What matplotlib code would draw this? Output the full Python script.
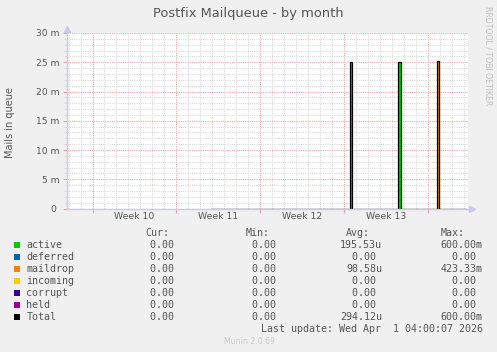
import matplotlib
matplotlib.use("Agg")
import matplotlib.pyplot as plt
import numpy as np
from matplotlib.patches import Rectangle
from matplotlib.transforms import blended_transform_factory

# ---------------- data ----------------
# time in days since Monday of Week 10 (2026-03-02 00:00)
time_days = [9.92, 21.50, 21.67, 25.53, 25.70, 28.78, 28.95, 31.17]
active   = [0.0, 25.1, 0.0, 25.0, 0.0, 0.0, 0.0, 0.0]   # milli
deferred = [0.0, 0.0, 0.0, 0.0, 0.0, 0.0, 0.0, 0.0]
maildrop = [0.0, 0.0, 0.0, 0.0, 0.0, 25.2, 0.0, 0.0]
incoming = [0.0, 0.0, 0.0, 0.0, 0.0, 0.0, 0.0, 0.0]
corrupt  = [0.0, 0.0, 0.0, 0.0, 0.0, 0.0, 0.0, 0.0]
held     = [0.0, 0.0, 0.0, 0.0, 0.0, 0.0, 0.0, 0.0]

series_names = ["active", "deferred", "maildrop", "incoming", "corrupt", "held"]
series_colors = ["#00CC00", "#0066B3", "#FF8000", "#FFCC00", "#330099", "#990099"]
total_color = "#000000"

week_starts = [0, 7, 14, 21, 28]
week_labels = ["Week 10", "Week 11", "Week 12", "Week 13"]
xlim = (-2.17, 31.33)
ymax = 30
y_ticks = [0, 5, 10, 15, 20, 25, 30]

legend_cur = ["0.00 ", "0.00 ", "0.00 ", "0.00 ", "0.00 ", "0.00 ", "0.00 "]
legend_min = ["0.00 ", "0.00 ", "0.00 ", "0.00 ", "0.00 ", "0.00 ", "0.00 "]
legend_avg = ["195.53u", "0.00 ", "98.58u", "0.00 ", "0.00 ", "0.00 ", "294.12u"]
legend_max = ["600.00m", "0.00 ", "423.33m", "0.00 ", "0.00 ", "0.00 ", "600.00m"]
last_update = "Last update: Wed Apr  1 04:00:07 2026"

# ---------------- figure ----------------
W, H = 497, 352
fig = plt.figure(figsize=(W / 100, H / 100), dpi=100, facecolor="#F0F0F0")

def fx(x):
    return x / W

def fy(y):
    return 1 - y / H

ax_l, ax_r, ax_t, ax_b = 66.5, 468, 33, 208.5
ax = fig.add_axes([fx(ax_l), fy(ax_b), fx(ax_r - ax_l), (ax_b - ax_t) / H])
ax.set_facecolor("white")
ax.set_xlim(*xlim)
ax.set_ylim(0, ymax)

# grid
ax.set_xticks(week_starts)
ax.set_xticks(np.arange(-2, 32, 1), minor=True)
ax.set_yticks(y_ticks)
ax.set_yticks(np.arange(0, ymax + 1, 1), minor=True)
ax.grid(which="minor", color="#DCDCDC", linestyle=(0, (1, 1)), linewidth=0.8)
ax.grid(which="major", color="#F0A8A8", linestyle=(0, (1, 1)), linewidth=0.8)
ax.set_axisbelow(True)

ax.set_xticklabels([])
ax.set_yticklabels([f"{v} m" if v else "0 " for v in y_ticks])
ax.tick_params(axis="y", which="major", length=3, color="#F0A0A0", labelsize=6.6,
               labelcolor="#555555", pad=2)
ax.tick_params(axis="y", which="minor", length=2, color="#D8D8D8")
ax.tick_params(axis="x", which="major", length=3, color="#F0A0A0")
ax.tick_params(axis="x", which="minor", length=0)

for s in ["top", "right"]:
    ax.spines[s].set_visible(False)
for s in ["left", "bottom"]:
    ax.spines[s].set_color("#C8C8E8")
    ax.spines[s].set_linewidth(1)

# arrows
ax.plot([0], [1.025], marker="^", color="#C8C8F0", markersize=4, transform=ax.transAxes, clip_on=False)
ax.plot([1.01], [0], marker=">", color="#C8C8F0", markersize=4, transform=ax.transAxes, clip_on=False)

# week labels
trans = blended_transform_factory(ax.transData, ax.transAxes)
for i, lab in enumerate(week_labels):
    xm = (week_starts[i] + week_starts[i + 1]) / 2
    ax.text(xm, -0.048, lab, transform=trans, ha="center", va="center",
            fontsize=6.7, color="#555555")

# stacked areas
t = np.array(time_days)
base = np.zeros(len(t))
for vals, col in zip([active, deferred, maildrop, incoming, corrupt, held], series_colors):
    v = np.array(vals)
    ax.fill_between(t, base, base + v, step="post", color=col, linewidth=0, zorder=3)
    base = base + v
ax.step(t, base, where="post", color=total_color, linewidth=0.9, zorder=4)

# texts
fig.text(fx(248), fy(14), "Postfix Mailqueue - by month", ha="center", va="center",
         fontsize=9.4, color="#555555")
fig.text(fx(10), fy(123), "Mails in queue", rotation=90, ha="center", va="center",
         fontsize=7, color="#555555")
fig.text(fx(488), fy(56), "RRDTOOL / TOBI OETIKER", rotation=270, ha="center", va="center",
         fontsize=5.6, color="#C0C0C0")
fig.text(fx(249), fy(341), "Munin 2.0.69", ha="center", va="center",
         fontsize=5.6, color="#CCCCCC")

mono = dict(family="DejaVu Sans Mono", fontsize=7.2, color="#555555", va="center")
header_y = 232.5
fig.text(fx(145), fy(header_y), "Cur:", ha="left", **mono)
fig.text(fx(245.7), fy(header_y), "Min:", ha="left", **mono)
fig.text(fx(346), fy(header_y), "Avg:", ha="left", **mono)
fig.text(fx(441), fy(header_y), "Max:", ha="left", **mono)

names = series_names + ["Total"]
colors = series_colors + [total_color]
for i, (nm, col) in enumerate(zip(names, colors)):
    y = 245 + i * 11.95
    fig.patches.append(Rectangle((fx(14), fy(y + 3)), fx(6), 6 / H, facecolor=col,
                                 edgecolor="none", transform=fig.transFigure, figure=fig))
    fig.text(fx(26.3), fy(y), nm, ha="left", **mono)
    fig.text(fx(180.5), fy(y), legend_cur[i], ha="right", **mono)
    fig.text(fx(281.5), fy(y), legend_min[i], ha="right", **mono)
    fig.text(fx(382), fy(y), legend_avg[i], ha="right", **mono)
    fig.text(fx(482.5), fy(y), legend_max[i], ha="right", **mono)

fig.text(fx(482.7), fy(328.5), last_update, ha="right", **mono)

fig.savefig("out.png", dpi=100, facecolor=fig.get_facecolor())
